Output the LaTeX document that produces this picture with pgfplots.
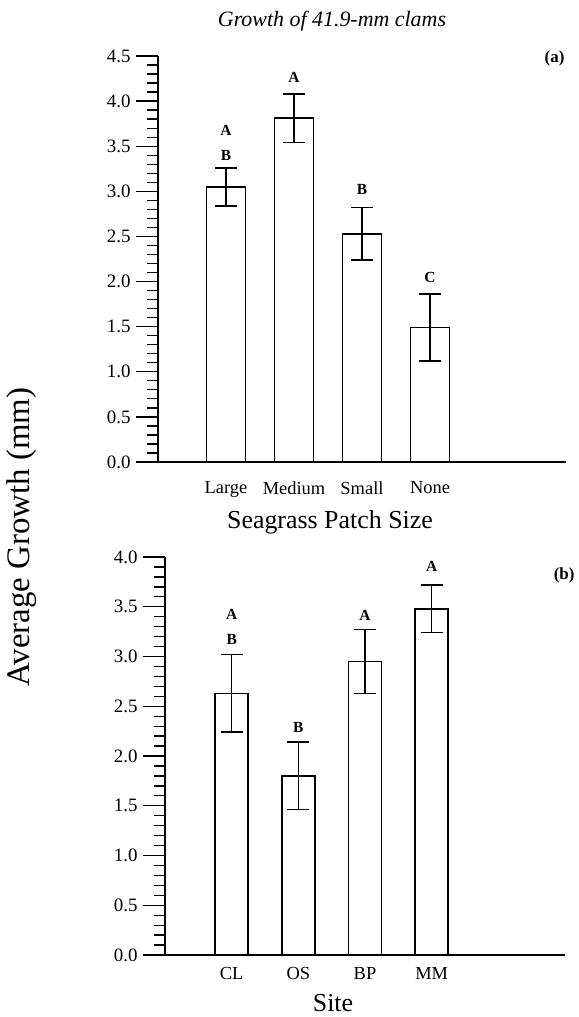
\documentclass[border=0pt]{standalone}
\usepackage{pgfplots}
\pgfplotsset{compat=1.18}
\usepackage{pgfplotstable}
\usepackage{fontspec}
\setmainfont{Liberation Serif}

\pgfplotstableread{
x y e
1 3.05 0.21
2 3.81 0.27
3 2.53 0.29
4 1.49 0.37
}\topdata
\pgfplotstableread{
x y e
1 2.63 0.39
2 1.80 0.34
3 2.95 0.32
4 3.48 0.24
}\botdata

\pgfplotsset{
  clamstyle/.style={
    scale only axis,
    axis lines=left,
    axis line style={-, line width=1.5bp},
    every outer x axis line/.append style={-},
    every outer y axis line/.append style={-},
    xmin=0, xmax=6,
    ymin=0,
    xtick={1,2,3,4},
    xtick style={draw=none},
    ytick distance=0.5,
    minor y tick num=4,
    tick align=outside,
    major tick length=22bp,
    minor tick length=11bp,
    every tick/.style={black, line width=1.3bp},
    yticklabel style={/pgf/number format/fixed, /pgf/number format/fixed zerofill, /pgf/number format/precision=1, font=\fontsize{19}{21}\selectfont, xshift=-2bp},
    /pgf/number format/assume math mode=true,
    xticklabel style={font=\fontsize{18.5}{20}\selectfont},
    clip=false,
  },
  barstyle/.style={ybar, fill=white, draw=black, line width=1.6bp,
    error bars/.cd, y dir=both, y explicit,
    error bar style={line width=1.5bp},
    error mark options={rotate=90, line width=1.5bp, mark size=11bp}},
}
\tikzset{letter/.style={font=\bfseries\fontsize{15.5}{17}\selectfont}}

\begin{document}
\begin{tikzpicture}
\path[use as bounding box] (0,0) rectangle (579bp,1017bp);

\begin{axis}[clamstyle,
  at={(158bp,555bp)}, anchor=south west,
  width=408bp, height=406bp,
  ymax=4.5,
  xticklabels={Large,Medium,Small,None},
  xticklabel style={yshift=6bp},
]
\addplot[bar width=39bp, barstyle] table[x=x, y=y, y error=e] {\topdata};
\node[letter] at (axis cs:1,3.67) {A};
\node[letter] at (axis cs:1,3.40) {B};
\node[letter] at (axis cs:2,4.26) {A};
\node[letter] at (axis cs:3,3.02) {B};
\node[letter] at (axis cs:4,2.05) {C};
\end{axis}

\begin{axis}[clamstyle,
  at={(165bp,62bp)}, anchor=south west,
  width=400bp, height=398bp,
  ymax=4.0,
  xticklabels={CL,OS,BP,MM},
  xticklabel style={yshift=13bp},
]
\addplot[bar width=33bp, barstyle] table[x=x, y=y, y error=e] {\botdata};
\node[letter] at (axis cs:1,3.42) {A};
\node[letter] at (axis cs:1,3.17) {B};
\node[letter] at (axis cs:2,2.29) {B};
\node[letter] at (axis cs:3,3.41) {A};
\node[letter] at (axis cs:4,3.91) {A};
\end{axis}

\node[font=\itshape\fontsize{22}{25}\selectfont] at (332bp,996bp) {Growth of 41.9-mm clams};
\node[font=\bfseries\fontsize{17}{19}\selectfont, anchor=east] at (568bp,959bp) {(a)};
\node[font=\bfseries\fontsize{17}{19}\selectfont, anchor=east] at (578bp,442bp) {(b)};
\node[font=\fontsize{26}{30}\selectfont] at (330bp,495bp) {Seagrass Patch Size};
\node[font=\fontsize{26}{30}\selectfont] at (333bp,14bp) {Site};
\node[font=\fontsize{33}{36}\selectfont, rotate=90] at (22bp,480bp) {Average Growth (mm)};
\end{tikzpicture}
\end{document}
